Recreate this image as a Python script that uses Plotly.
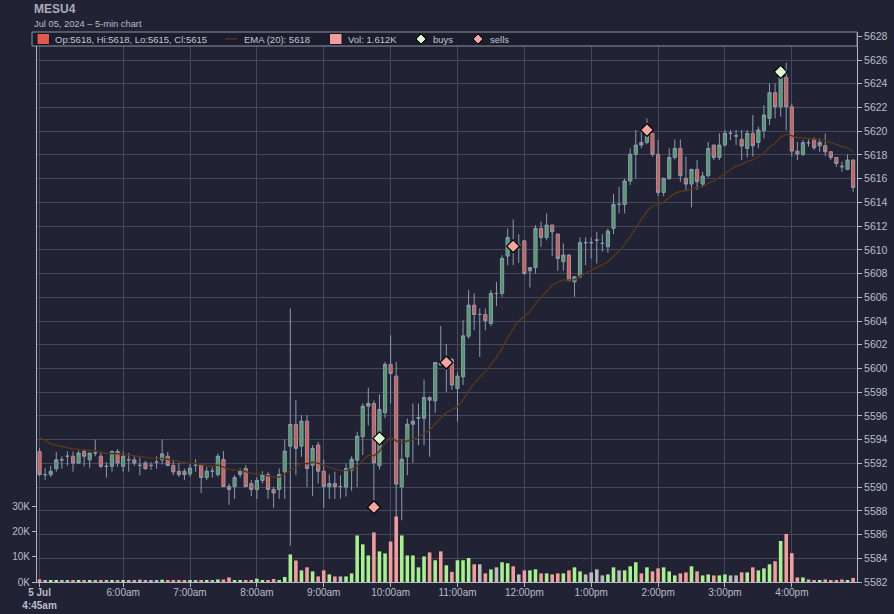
import pandas as pd
import plotly.graph_objects as go

# MESU4 5-min candles, Jul 05 2024
symbol = "MESU4"
subtitle = "Jul 05, 2024 \u2013 5-min chart"
start = "2024-07-05 04:45"

opens = [5593.0, 5591.05, 5591.05, 5591.55, 5592.3, 5592.6, 5592.6, 5592.03, 5593.0, 5592.3,
         5592.87, 5592.6, 5591.75, 5591.75, 5593.0, 5591.75, 5592.3, 5592.3, 5591.83, 5592.03,
         5591.83, 5592.1, 5592.3, 5592.6, 5591.83, 5591.33, 5591.33, 5591.1, 5591.85, 5591.85,
         5590.81, 5591.34, 5591.06, 5592.33, 5590.05, 5590.05, 5591.06, 5591.57, 5590.3, 5589.8,
         5590.56, 5591.06, 5589.8, 5589.8, 5591.29, 5593.45, 5595.28, 5593.45, 5595.56, 5591.85,
         5593.54, 5591.34, 5590.05, 5590.3, 5590.05, 5590.0, 5591.43, 5592.27, 5594.24, 5596.82,
         5597.05, 5591.8, 5596.26, 5600.34, 5599.35, 5590.02, 5592.55, 5595.3, 5595.8, 5595.8,
         5597.55, 5597.27, 5600.5, 5600.4, 5600.76, 5598.31, 5599.3, 5602.72, 5605.34, 5604.55,
         5604.55, 5603.79, 5606.32, 5606.32, 5609.47, 5610.76, 5610.4, 5610.76, 5608.23, 5608.5,
         5611.8, 5611.04, 5612.09, 5611.33, 5608.99, 5609.56, 5607.3, 5607.73, 5610.6, 5610.6,
         5610.82, 5610.54, 5610.26, 5611.81, 5613.83, 5613.83, 5615.8, 5618.05, 5619.05, 5619.06,
         5619.82, 5618.05, 5614.84, 5616.02, 5617.79, 5618.55, 5616.02, 5615.54, 5616.78, 5615.54,
         5616.25, 5618.83, 5617.79, 5618.83, 5619.82, 5619.6, 5619.31, 5618.55, 5619.81, 5619.05,
         5620.04, 5621.08, 5623.24, 5622.06, 5624.54, 5622.06, 5618.32, 5618.04, 5619.03, 5619.31,
         5618.77, 5618.77, 5618.27, 5617.79, 5617.05, 5616.78, 5617.57]
highs = [5593.3, 5591.6, 5591.8, 5592.96, 5592.6, 5593.0, 5593.0, 5593.1, 5593.2, 5592.9,
         5594.0, 5592.9, 5592.1, 5593.1, 5593.2, 5593.0, 5592.87, 5592.6, 5592.5, 5592.2,
         5592.1, 5592.6, 5594.0, 5592.96, 5592.3, 5592.05, 5591.55, 5592.0, 5592.36, 5591.85,
         5591.7, 5591.7, 5592.83, 5593.03, 5590.3, 5591.0, 5591.57, 5591.85, 5590.6, 5590.81,
         5591.34, 5591.29, 5590.05, 5591.57, 5594.04, 5605.06, 5597.33, 5596.07, 5596.07, 5593.54,
         5593.82, 5592.33, 5591.06, 5591.3, 5591.0, 5592.0, 5592.6, 5594.66, 5597.05, 5598.37,
         5597.3, 5597.83, 5600.56, 5602.8, 5600.56, 5594.0, 5595.78, 5597.05, 5597.05, 5599.07,
         5597.66, 5600.5, 5603.57, 5602.05, 5600.9, 5599.7, 5604.07, 5606.6, 5606.33, 5605.06,
         5605.06, 5606.6, 5607.3, 5609.55, 5611.8, 5612.56, 5611.3, 5610.8, 5608.5, 5612.08,
         5612.36, 5613.07, 5612.1, 5611.35, 5610.54, 5609.6, 5607.6, 5611.05, 5611.05, 5611.05,
         5611.52, 5611.33, 5611.8, 5614.7, 5615.3, 5616.0, 5618.55, 5620.1, 5620.1, 5621.08,
         5619.85, 5619.25, 5616.1, 5618.55, 5619.3, 5619.3, 5617.85, 5616.8, 5617.57, 5616.58,
         5619.1, 5618.85, 5619.82, 5620.1, 5620.1, 5620.1, 5620.1, 5620.1, 5621.36, 5620.38,
         5622.2, 5624.03, 5624.03, 5625.57, 5625.77, 5622.34, 5619.1, 5619.25, 5619.3, 5619.48,
         5619.39, 5619.81, 5618.3, 5617.8, 5617.42, 5618.04, 5617.6]
lows = [5590.9, 5590.6, 5590.85, 5591.3, 5591.55, 5591.8, 5591.3, 5591.97, 5591.75, 5591.6,
        5592.6, 5591.6, 5590.8, 5591.3, 5591.7, 5591.3, 5591.3, 5591.8, 5591.0, 5591.45,
        5591.45, 5591.55, 5591.9, 5591.75, 5591.0, 5590.85, 5590.6, 5590.87, 5591.29, 5589.5,
        5590.6, 5590.81, 5590.87, 5590.0, 5588.5, 5589.0, 5590.81, 5590.0, 5589.24, 5589.0,
        5590.3, 5589.0, 5588.25, 5589.0, 5589.0, 5585.05, 5591.0, 5592.55, 5590.0, 5589.24,
        5590.3, 5588.25, 5589.0, 5589.0, 5589.04, 5589.2, 5589.7, 5590.0, 5592.7, 5595.2,
        5588.76, 5591.48, 5595.8, 5597.05, 5587.35, 5587.2, 5591.0, 5592.05, 5593.54, 5593.54,
        5592.55, 5596.26, 5600.3, 5598.03, 5598.2, 5595.5, 5598.6, 5602.5, 5603.23, 5600.98,
        5603.23, 5603.57, 5605.25, 5606.04, 5608.71, 5608.7, 5608.9, 5607.9, 5606.83, 5608.0,
        5610.26, 5610.8, 5609.47, 5608.23, 5608.23, 5607.39, 5606.04, 5607.6, 5608.7, 5609.27,
        5608.85, 5609.85, 5609.75, 5611.33, 5613.07, 5613.07, 5615.46, 5616.0, 5618.55, 5618.9,
        5617.85, 5614.53, 5614.53, 5615.88, 5617.6, 5615.74, 5615.04, 5613.58, 5615.04, 5615.3,
        5616.1, 5617.57, 5617.57, 5618.7, 5619.25, 5618.83, 5617.57, 5617.79, 5617.85, 5618.55,
        5619.39, 5620.52, 5621.08, 5621.22, 5620.1, 5617.85, 5617.57, 5617.9, 5618.69, 5618.4,
        5618.27, 5617.9, 5617.57, 5617.0, 5616.58, 5616.72, 5614.9]
closes = [5591.05, 5591.05, 5591.33, 5592.3, 5592.3, 5592.6, 5592.03, 5592.87, 5592.6, 5592.87,
          5592.87, 5591.75, 5591.75, 5593.0, 5592.03, 5592.6, 5592.3, 5592.03, 5591.83, 5591.55,
          5591.83, 5592.1, 5592.8, 5591.83, 5591.28, 5591.05, 5591.05, 5591.6, 5591.85, 5590.81,
          5591.34, 5591.34, 5592.6, 5590.05, 5589.8, 5590.81, 5591.34, 5590.05, 5589.8, 5590.56,
          5591.06, 5589.8, 5589.5, 5591.06, 5593.03, 5595.28, 5593.26, 5595.56, 5591.57, 5593.26,
          5591.34, 5590.05, 5590.3, 5590.05, 5590.05, 5591.57, 5592.35, 5594.3, 5596.82, 5597.05,
          5592.04, 5596.54, 5600.34, 5599.58, 5590.25, 5592.35, 5595.3, 5595.56, 5595.85, 5597.55,
          5597.33, 5600.5, 5600.3, 5600.8, 5598.6, 5599.35, 5602.75, 5605.34, 5604.55, 5604.55,
          5604.02, 5606.32, 5606.32, 5609.27, 5611.04, 5610.3, 5610.4, 5608.0, 5608.5, 5611.8,
          5611.04, 5612.08, 5611.52, 5609.27, 5609.56, 5607.39, 5607.73, 5610.6, 5610.6, 5610.6,
          5610.82, 5610.54, 5611.58, 5613.83, 5613.83, 5615.8, 5618.05, 5618.83, 5618.83, 5619.82,
          5618.05, 5614.84, 5616.02, 5617.79, 5618.55, 5616.25, 5615.54, 5616.78, 5615.74, 5616.22,
          5618.55, 5617.79, 5618.83, 5619.82, 5619.82, 5619.6, 5618.75, 5619.81, 5618.77, 5620.1,
          5621.36, 5623.24, 5622.06, 5624.59, 5622.06, 5618.32, 5618.07, 5619.03, 5619.03, 5618.6,
          5619.06, 5618.27, 5617.79, 5617.28, 5617.0, 5617.57, 5615.26]
volumes_k = [1.05, 0.6, 0.6, 0.6, 0.6, 0.6, 0.6, 0.6, 0.6, 0.6,
             0.8, 0.6, 0.8, 0.6, 0.6, 0.6, 0.6, 0.6, 0.9, 0.6,
             0.4, 0.4, 0.9, 0.6, 0.6, 0.6, 0.6, 0.8, 0.7, 0.8,
             0.6, 0.8, 1.0, 1.0, 1.8, 0.8, 0.8, 0.8, 0.8, 1.3,
             0.8, 0.8, 1.2, 0.8, 2.0, 10.9, 8.5, 4.6, 5.8, 4.2,
             2.2, 4.6, 3.0, 2.2, 2.2, 2.2, 3.4, 18.4, 14.9, 10.5,
             19.6, 12.1, 11.3, 16.0, 25.9, 18.4, 10.5, 10.5, 5.8, 10.1,
             11.7, 8.6, 12.1, 6.6, 4.0, 8.6, 8.6, 9.5, 7.0, 7.0,
             3.4, 5.0, 5.8, 7.8, 7.4, 6.2, 3.0, 4.6, 4.6, 5.0,
             3.4, 3.4, 3.0, 3.4, 3.4, 4.6, 5.8, 4.2, 3.0, 3.8,
             5.0, 2.6, 3.0, 5.8, 4.6, 4.6, 6.2, 7.8, 3.4, 5.8,
             4.2, 5.4, 5.8, 4.2, 2.6, 3.4, 3.8, 6.2, 4.2, 2.6,
             3.0, 2.6, 2.6, 3.0, 2.6, 2.6, 3.8, 3.8, 5.8, 4.6,
             5.4, 7.0, 8.2, 16.2, 19.0, 11.4, 1.8, 1.8, 1.0, 0.6,
             0.6, 1.0, 0.6, 0.6, 1.0, 0.6, 1.612]

# EMA value at the first bar (seeded by earlier data not on the chart)
ema_seed = 5594.2
ema_period = 20

buy_times = ["2024-07-05 09:50", "2024-07-05 15:50"]
buy_prices = [5594.1, 5625.0]
sell_times = ["2024-07-05 09:45", "2024-07-05 10:50", "2024-07-05 11:50", "2024-07-05 13:50"]
sell_prices = [5588.3, 5600.5, 5610.3, 5620.1]

tick_times = ["2024-07-05 04:45", "2024-07-05 06:00", "2024-07-05 07:00", "2024-07-05 08:00",
              "2024-07-05 09:00", "2024-07-05 10:00", "2024-07-05 11:00", "2024-07-05 12:00",
              "2024-07-05 13:00", "2024-07-05 14:00", "2024-07-05 15:00", "2024-07-05 16:00"]
tick_labels = ["<b>5 Jul</b><br><b>4:45am</b>", "6:00am", "7:00am", "8:00am", "9:00am", "10:00am",
               "11:00am", "12:00pm", "1:00pm", "2:00pm", "3:00pm", "4:00pm"]
vol_ticks = [0, 10000, 20000, 30000]
vol_tick_labels = ["0K", "10K", "20K", "30K"]

# colours
BG = "#212335"
LEGEND_BG = "#1b1d2c"
GRID = "#45475a"
AXIS = "#b0b6c2"
TEXT = "#b9bdc7"
WICK = "#8a9aae"
UP = "#4f9c64"
DOWN = "#e0594b"
VOL_UP = "#a6f08e"
VOL_DOWN = "#f29c9c"
VOL_FLAT = "#bcbcbc"
EMA_COL = "#553618"
BUY_COL = "#dcf8d2"
SELL_COL = "#f5a4a2"
FONT = "Liberation Sans, Arial, sans-serif"

times = pd.date_range(start, periods=len(closes), freq="5min")
volumes = [v * 1000 for v in volumes_k]

# EMA(20) of closes
alpha = 2 / (ema_period + 1)
ema = [ema_seed]
for c in closes[1:]:
    ema.append(ema[-1] + alpha * (c - ema[-1]))

vol_colors = []
for o, c in zip(opens, closes):
    if c > o:
        vol_colors.append(VOL_UP)
    elif c < o:
        vol_colors.append(VOL_DOWN)
    else:
        vol_colors.append(VOL_FLAT)

fig = go.Figure()

fig.add_trace(go.Bar(
    x=times, y=volumes, yaxis="y2",
    marker=dict(color=vol_colors, line_width=0),
    width=5 * 60 * 1000 * 0.64,
    showlegend=False, hoverinfo="skip",
))

fig.add_trace(go.Candlestick(
    x=times, open=opens, high=highs, low=lows, close=closes,
    increasing=dict(fillcolor=UP, line=dict(color=WICK, width=1)),
    decreasing=dict(fillcolor=DOWN, line=dict(color=WICK, width=1)),
    whiskerwidth=0, showlegend=False,
))

fig.add_trace(go.Scatter(
    x=times, y=ema, mode="lines",
    line=dict(color=EMA_COL, width=1.4),
    showlegend=False, hoverinfo="skip",
))

fig.add_trace(go.Scatter(
    x=pd.to_datetime(sell_times), y=sell_prices, mode="markers",
    marker=dict(symbol="diamond", size=10, color=SELL_COL, line=dict(color="#000000", width=1.2)),
    showlegend=False,
))
fig.add_trace(go.Scatter(
    x=pd.to_datetime(buy_times), y=buy_prices, mode="markers",
    marker=dict(symbol="diamond", size=10, color=BUY_COL, line=dict(color="#000000", width=1.2)),
    showlegend=False,
))

# fixed 894x614 figure, plot area x 37..857, y 32..582 (body margin removed below)
FIG_W, FIG_H = 894, 614
L, T, PW, PH = 37, 32, 820, 550


def px(x):
    return (x - L) / PW


def py(y):
    return (T + PH - y) / PH


shapes = [
    # legend strip across the top of the plot
    dict(type="rect", xref="paper", yref="paper", x0=px(32), x1=1, y0=py(46), y1=1,
         fillcolor=LEGEND_BG, line=dict(color="#8d93a0", width=1), layer="above"),
    dict(type="rect", xref="paper", yref="paper", x0=px(37), x1=px(49.5), y0=py(44.5), y1=py(33.5),
         fillcolor=DOWN, line=dict(color="#14151f", width=1), layer="above"),
    dict(type="line", xref="paper", yref="paper", x0=px(225), x1=px(237), y0=py(39), y1=py(39),
         line=dict(color=EMA_COL, width=1.4), layer="above"),
    dict(type="rect", xref="paper", yref="paper", x0=px(329.5), x1=px(342), y0=py(44.5), y1=py(33.5),
         fillcolor=VOL_DOWN, line=dict(color="#14151f", width=1), layer="above"),
]
for cx, col in [(421, BUY_COL), (478, SELL_COL)]:
    shapes.append(dict(
        type="path", xref="paper", yref="paper", layer="above",
        path=f"M {px(cx)} {py(34)} L {px(cx + 5)} {py(39)} L {px(cx)} {py(44)} L {px(cx - 5)} {py(39)} Z",
        fillcolor=col, line=dict(color="#000000", width=1),
    ))

legend_items = [
    (53, f"Op:{opens[-1]:.0f}, Hi:{highs[-1]:.0f}, Lo:{lows[-1]:.0f}, Cl:{closes[-1]:.0f}"),
    (241.5, f"EMA (20): {ema[-1]:.0f}"),
    (346, f"Vol: {volumes_k[-1]:.3f}K"),
    (431, "buys"),
    (488, "sells"),
]
annotations = [
    dict(text=f"<b>{symbol}</b>", x=px(31.5), y=py(8.5), xref="paper", yref="paper",
         xanchor="left", yanchor="middle", showarrow=False, font=dict(size=12, color="#a9adb8")),
    dict(text=subtitle, x=px(31.5), y=py(24), xref="paper", yref="paper",
         xanchor="left", yanchor="middle", showarrow=False, font=dict(size=9.3, color=TEXT)),
]
for x, txt in legend_items:
    annotations.append(dict(text=txt, x=px(x), y=py(39.5), xref="paper", yref="paper",
                            xanchor="left", yanchor="middle", showarrow=False,
                            font=dict(size=9.5, color="#c3c7d0")))

x_left = times[0] - pd.Timedelta(minutes=2.3)
x_right = times[0] + pd.Timedelta(minutes=733.5)

fig.update_layout(
    width=FIG_W, height=FIG_H,
    margin=dict(l=L, r=FIG_W - L - PW, t=T, b=FIG_H - T - PH, autoexpand=False),
    paper_bgcolor=BG, plot_bgcolor=BG,
    font=dict(family=FONT, size=10, color=TEXT),
    boxgap=0.18,
    showlegend=False,
    hovermode=False,
    xaxis=dict(
        type="date", range=[x_left, x_right], automargin=False,
        rangeslider=dict(visible=False),
        tickvals=pd.to_datetime(tick_times), ticktext=tick_labels,
        showgrid=True, gridcolor=GRID, gridwidth=1,
        showline=True, linecolor=AXIS, linewidth=1,
        ticks="outside", ticklen=4, tickcolor=AXIS, ticklabelstandoff=-3,
        tickfont=dict(size=10, color=TEXT), zeroline=False,
    ),
    yaxis=dict(
        side="right", range=[5582, 5628.36], automargin=False,
        tick0=5582, dtick=2,
        showgrid=True, gridcolor=GRID, gridwidth=1,
        showline=True, linecolor=AXIS, linewidth=1,
        ticks="outside", ticklen=4, tickcolor=AXIS,
        tickfont=dict(size=10.5, color=TEXT), zeroline=False,
    ),
    yaxis2=dict(
        overlaying="y", side="left", range=[0, 217400], automargin=False,
        tickvals=vol_ticks, ticktext=vol_tick_labels,
        showgrid=False, zeroline=False,
        showline=True, linecolor=AXIS, linewidth=1,
        ticks="outside", ticklen=4, tickcolor=AXIS,
        tickfont=dict(size=10, color=TEXT),
    ),
    shapes=shapes,
    annotations=annotations,
)

# drop the default 8px page margin so the figure fills the window
fig.write_html("out.html", config={"displayModeBar": False},
               post_script=f"document.body.style.margin='0';document.body.style.background='{BG}';")
